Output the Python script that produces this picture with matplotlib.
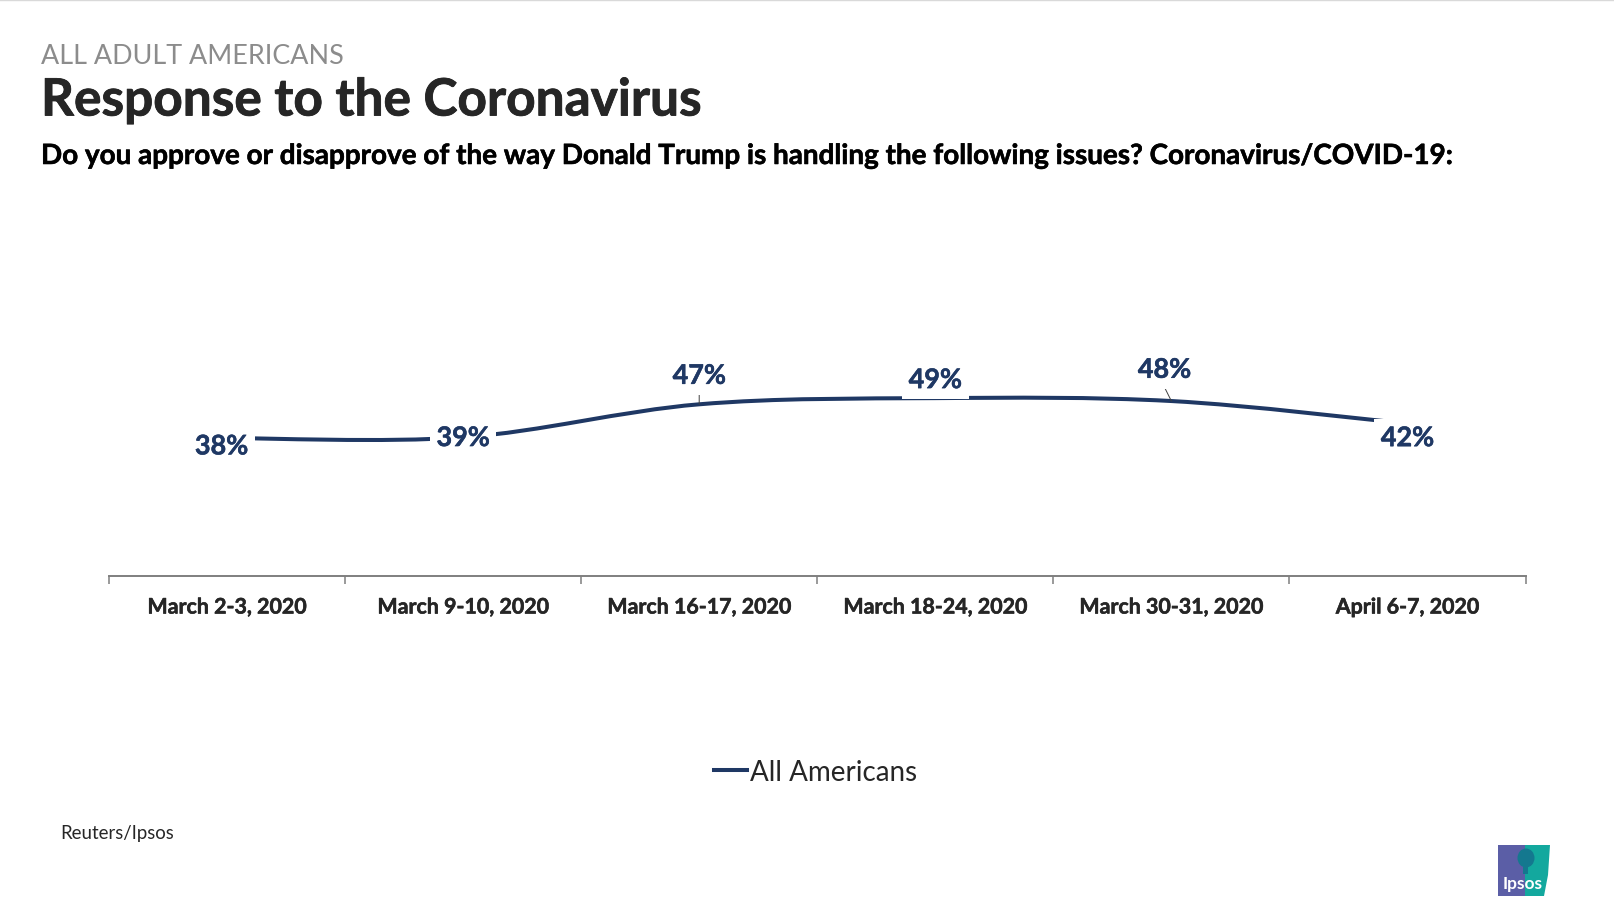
import matplotlib
matplotlib.use("Agg")
import matplotlib.pyplot as plt
import matplotlib.patheffects as pe
from matplotlib.path import Path
from matplotlib.patches import PathPatch, Polygon, Ellipse, Rectangle
import numpy as np

W, H = 1614, 904

dates = ["March 2-3, 2020", "March 9-10, 2020", "March 16-17, 2020",
         "March 18-24, 2020", "March 30-31, 2020", "April 6-7, 2020"]
approve = [38, 39, 47, 49, 48, 42]
# where the line actually sits
line_vals = [38.0, 38.2, 47.3, 49.0, 48.2, 42.0]
value_labels = ["38%", "39%", "47%", "49%", "48%", "42%"]

navy = "#1f3864"
plt.rcParams["font.family"] = ["Lato", "DejaVu Sans"]


def fx(x):
    return x / W


def fy(y):
    return 1 - y / H


# lato bold is a bit lighter than the slide's font, thicken it slightly
def thicker(color, w=0.4):
    return [pe.withStroke(linewidth=w, foreground=color)]


# smooth curve through the points, same idea as excel's smoothed line
def smooth_path(xs, ys):
    xs = np.array(xs)
    ys = np.array(ys)
    verts = [(xs[0], ys[0])]
    codes = [Path.MOVETO]
    for i in range(len(xs) - 1):
        p0 = max(i - 1, 0)
        p3 = min(i + 2, len(xs) - 1)
        c1 = (xs[i] + (xs[i + 1] - xs[p0]) / 6, ys[i] + (ys[i + 1] - ys[p0]) / 6)
        c2 = (xs[i + 1] - (xs[p3] - xs[i]) / 6, ys[i + 1] - (ys[p3] - ys[i]) / 6)
        verts += [c1, c2, (xs[i + 1], ys[i + 1])]
        codes += [Path.CURVE4] * 3
    return Path(verts, codes)


fig = plt.figure(figsize=(W / 100, H / 100), dpi=100)
fig.patch.set_facecolor("white")

# thin rule along the top edge of the slide
fig.add_artist(plt.Line2D([0, 1], [fy(0.5), fy(0.5)], color="#d9d9d9", lw=1))

fig.text(fx(41), fy(56), "ALL ADULT AMERICANS", fontsize=19.4, color="#8c8c8c", va="center")
fig.text(fx(41), fy(102), "Response to the Coronavirus", fontsize=37, fontweight="bold",
         color="#262626", va="center", path_effects=thicker("#262626", 0.6))
fig.text(fx(41), fy(157), "Do you approve or disapprove of the way Donald Trump is handling the following issues? Coronavirus/COVID-19:",
         fontsize=20.05, fontweight="bold", color="black", va="center", path_effects=thicker("black"))

# plot area: 0-100 scale sitting on the axis line
ax = fig.add_axes([fx(109), fy(577), (1525.5 - 109) / W, 363 / H])
ax.set_xlim(0, 6)
ax.set_ylim(0, 100)
ax.patch.set_alpha(0)
for s in ["top", "left", "right"]:
    ax.spines[s].set_visible(False)
ax.spines["bottom"].set_color("#7f7f7f")
ax.spines["bottom"].set_linewidth(1.4)
ax.set_yticks([])
ax.set_xticks(np.arange(0, 7))
ax.set_xticklabels([])
ax.tick_params(axis="x", length=5.5, width=1.1, color="#7f7f7f")

x_pos = np.arange(len(dates)) + 0.5
for x, d in zip(x_pos, dates):
    ax.annotate(d, (x, 0), xytext=(0, -22.7), textcoords="offset points", ha="center", va="center",
                fontsize=15.4, fontweight="bold", color="#262626", path_effects=thicker("#262626"))

ax.add_patch(PathPatch(smooth_path(x_pos, line_vals), fill=False, edgecolor=navy, lw=2.9, zorder=2))

# leader lines for the labels that were pulled away from their point
ax.annotate("", (x_pos[2], line_vals[2]), xytext=(0, 10), textcoords="offset points",
            arrowprops=dict(arrowstyle="-", color="#404040", lw=0.7, shrinkA=0, shrinkB=0), zorder=3)
ax.annotate("", (x_pos[4], line_vals[4]), xytext=(-5, 10), textcoords="offset points",
            arrowprops=dict(arrowstyle="-", color="#404040", lw=0.7, shrinkA=0, shrinkB=0), zorder=3)

# label offsets in points from each data point
offsets = [(-4, -6), (0, -0.5), (0, 20.5), (0, 13), (-5, 22.5), (0, -10.5)]
for i, lab in enumerate(value_labels):
    ax.annotate(lab, (x_pos[i], line_vals[i]), xytext=offsets[i], textcoords="offset points",
                ha="center", va="center", fontsize=19.4, fontweight="bold", color=navy, zorder=4,
                path_effects=thicker(navy),
                bbox=dict(boxstyle="square,pad=0.25", fc="white", ec="none"))

# legend, drawn by hand so it can sit low on the slide
fig.add_artist(plt.Line2D([fx(714), fx(747)], [fy(771), fy(771)], color=navy, lw=2.9))
fig.text(fx(750), fy(773), "All Americans", fontsize=20, color="#262626", va="center")

fig.text(fx(60), fy(834), "Reuters/Ipsos", fontsize=13.4, color="#262626", va="center")

# ipsos logo
logo = fig.add_axes([fx(1498), fy(897), 52 / W, 51 / H])
logo.set_xlim(0, 52)
logo.set_ylim(51, 0)
logo.axis("off")
logo.add_patch(Polygon([(0, 0), (27, 0), (27, 51), (0, 51)], fc="#5b5ea6", ec="none"))
logo.add_patch(Polygon([(27, 0), (52, 0), (50, 30), (46, 51), (27, 51)], fc="#13a89e", ec="none"))
logo.add_patch(Ellipse((28, 13), 17, 19, fc="#14788f", ec="none"))
logo.add_patch(Rectangle((25, 20), 5, 9, fc="#14788f", ec="none"))
logo.text(25, 38, "Ipsos", color="white", fontsize=12.5, fontweight="bold", ha="center", va="center")

fig.savefig("out.png", dpi=100)
